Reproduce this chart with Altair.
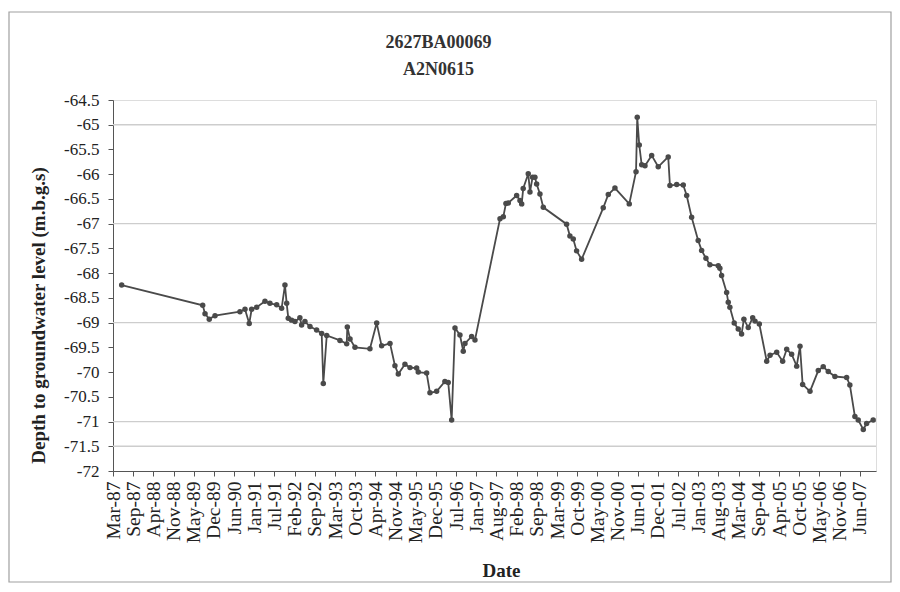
import altair as alt
import pandas as pd

# ---- data (decimal year, depth in m) ----
year_frac = [
    1987.428, 1989.626, 1989.688, 1989.805, 1989.959, 1990.638, 1990.773, 1990.890, 1990.955, 1991.091,
    1991.316, 1991.452, 1991.633, 1991.769, 1991.858, 1991.905, 1991.948, 1992.040, 1992.130, 1992.265,
    1992.311, 1992.401, 1992.537, 1992.718, 1992.854, 1992.897, 1992.990, 1993.350, 1993.532, 1993.548,
    1993.622, 1993.757, 1994.164, 1994.346, 1994.482, 1994.707, 1994.843, 1994.932, 1995.114, 1995.250,
    1995.432, 1995.475, 1995.703, 1995.792, 1995.974, 1996.199, 1996.289, 1996.381, 1996.470, 1996.606,
    1996.696, 1996.742, 1996.923, 1997.013, 1997.692, 1997.781, 1997.854, 1997.917, 1998.144, 1998.234,
    1998.280, 1998.323, 1998.459, 1998.505, 1998.578, 1998.641, 1998.687, 1998.776, 1998.866, 1999.501,
    1999.590, 1999.680, 1999.772, 1999.908, 2000.494, 2000.630, 2000.811, 2001.199, 2001.381, 2001.416,
    2001.471, 2001.536, 2001.625, 2001.807, 2001.986, 2002.257, 2002.303, 2002.485, 2002.664, 2002.757,
    2002.892, 2003.071, 2003.163, 2003.280, 2003.389, 2003.614, 2003.660, 2003.706, 2003.842, 2003.885,
    2003.931, 2004.048, 2004.156, 2004.248, 2004.311, 2004.428, 2004.547, 2004.610, 2004.727, 2004.927,
    2005.017, 2005.199, 2005.361, 2005.470, 2005.605, 2005.741, 2005.831, 2005.904, 2006.102, 2006.327,
    2006.463, 2006.598, 2006.780, 2007.097, 2007.186, 2007.323, 2007.412, 2007.548, 2007.640, 2007.819,
]
depth = [
    -68.24, -68.65, -68.82, -68.93, -68.86, -68.78, -68.73, -69.02, -68.73, -68.69,
    -68.57, -68.61, -68.64, -68.71, -68.24, -68.61, -68.91, -68.95, -68.98, -68.90,
    -69.05, -68.98, -69.08, -69.15, -69.22, -70.23, -69.26, -69.36, -69.43, -69.09,
    -69.33, -69.50, -69.53, -69.01, -69.47, -69.42, -69.87, -70.04, -69.84, -69.91,
    -69.92, -70.00, -70.02, -70.42, -70.39, -70.19, -70.21, -70.97, -69.11, -69.25,
    -69.58, -69.42, -69.28, -69.35, -66.90, -66.86, -66.59, -66.58, -66.43, -66.53,
    -66.60, -66.29, -65.99, -66.36, -66.06, -66.06, -66.20, -66.40, -66.67, -67.01,
    -67.25, -67.31, -67.55, -67.72, -66.68, -66.41, -66.28, -66.60, -65.95, -64.85,
    -65.41, -65.81, -65.83, -65.62, -65.85, -65.65, -66.23, -66.21, -66.22, -66.43,
    -66.87, -67.34, -67.54, -67.70, -67.83, -67.85, -67.90, -68.05, -68.39, -68.59,
    -68.69, -69.01, -69.13, -69.23, -68.93, -69.10, -68.90, -68.97, -69.03, -69.78,
    -69.66, -69.60, -69.78, -69.54, -69.64, -69.88, -69.48, -70.25, -70.39, -69.97,
    -69.89, -69.99, -70.09, -70.11, -70.26, -70.90, -70.97, -71.16, -71.04, -70.97,
]

y_labels = [-64.5, -65, -65.5, -66, -66.5, -67, -67.5, -68, -68.5, -69,
            -69.5, -70, -70.5, -71, -71.5, -72]
grid_levels = [-65, -67, -69, -71, -71.5]
axis_start = "1987-03-12"
tick_step_days = 200
n_ticks = 38
axis_span_days = 7561

title_lines = ["2627BA00069", "A2N0615"]
x_title = "Date"
y_title = "Depth to groundwater level (m.b.g.s)"


def frac_to_date(y):
    yr = int(y)
    days_in = 366 if (yr % 4 == 0 and (yr % 100 != 0 or yr % 400 == 0)) else 365
    d = pd.Timestamp(yr, 1, 1) + pd.Timedelta(days=(y - yr) * days_in)
    return d.strftime("%Y-%m-%d")


def ms(ts):
    return int(ts.timestamp() * 1000)


df = pd.DataFrame({"date": [frac_to_date(v) for v in year_frac], "depth": depth})
grid_df = pd.DataFrame({"depth": grid_levels})

start = pd.Timestamp(axis_start)
tick_ms = [ms(start + pd.Timedelta(days=tick_step_days * i)) for i in range(n_ticks)]
x_scale = alt.Scale(type="utc", domain=[ms(start), ms(start + pd.Timedelta(days=axis_span_days))])
y_scale = alt.Scale(domain=[-72, -64.5], nice=False, zero=False)

FONT = "Liberation Serif"
INK = "#4a4a4a"

x_axis = alt.Axis(
    values=tick_ms, labelExpr="utcFormat(datum.value, '%b-%y')", labelAngle=270,
    labelFlush=False, labelOverlap=False, labelFont=FONT, labelFontSize=19.5,
    labelColor="#222222", tickSize=5, tickColor="#555555", domainColor="#555555",
    labelPadding=5, grid=False,
    title=x_title, titleFont=FONT, titleFontSize=19, titleFontWeight="bold",
    titleColor="#222222", titleX=388, titleY=99, titleAlign="center", titleBaseline="middle",
)
y_axis = alt.Axis(
    values=y_labels, labelExpr="replace(format(datum.value, '~g'), '\u2212', '-')",
    labelFont=FONT, labelFontSize=17, labelColor="#222222", tickSize=5,
    tickColor="#555555", domainColor="#555555", labelPadding=9, grid=False,
    title=y_title, titleFont=FONT, titleFontSize=19, titleFontWeight="bold",
    titleColor="#222222", titleX=-75, titleY=215, titleAngle=270,
    titleAlign="center", titleBaseline="middle",
)

frame = alt.Chart(pd.DataFrame({"a": [0]})).mark_rect(
    fill="white", fillOpacity=0, stroke="#a0a0a0", strokeWidth=1.2
).encode(x=alt.value(-104), x2=alt.value(778), y=alt.value(-88), y2=alt.value(482))

grid = alt.Chart(grid_df).mark_rule(color="#cdcdcd", strokeWidth=1.3).encode(
    y=alt.Y("depth:Q", scale=y_scale, axis=y_axis)
)

base = alt.Chart(df).encode(
    x=alt.X("date:T", scale=x_scale, axis=x_axis),
    y=alt.Y("depth:Q", scale=y_scale, axis=y_axis),
)
line = base.mark_line(color=INK, strokeWidth=1.8)
pts = base.mark_circle(color=INK, size=30, opacity=1)

chart = alt.layer(grid, line, pts, frame).properties(
    width=763, height=371,
    autosize=alt.AutoSizeParams(type="none"),
    padding={"left": 105, "top": 92, "right": 16, "bottom": 112},
    title=alt.TitleParams(
        title_lines, font=FONT, fontSize=18, fontWeight="bold", color="#333333",
        anchor="middle", dx=-56, offset=-68, lineHeight=27,
    ),
).configure_view(stroke="#9a9a9a", strokeWidth=1).configure(background="white")

chart.save("out.html", embed_options={"renderer": "svg", "actions": False})
